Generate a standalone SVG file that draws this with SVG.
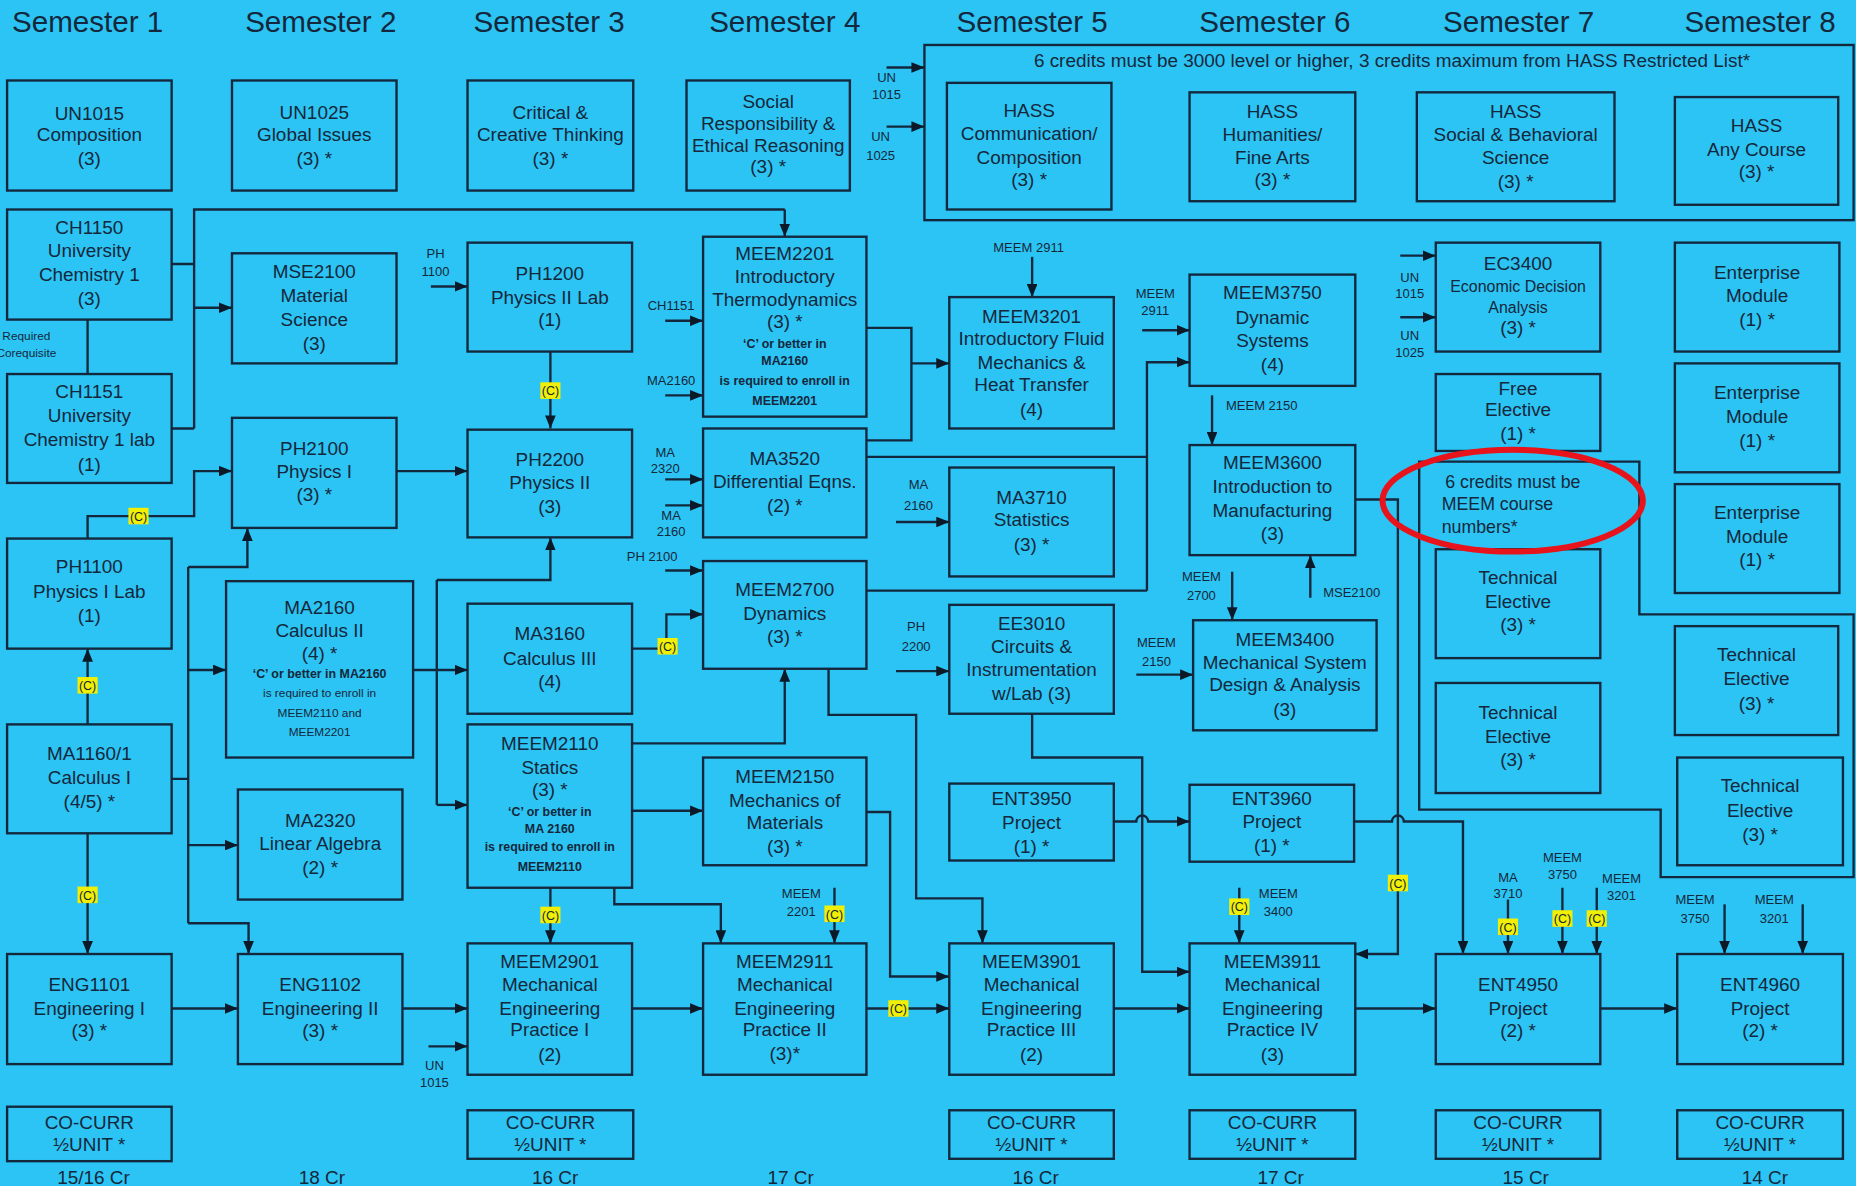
<svg xmlns="http://www.w3.org/2000/svg" xmlns:xlink="http://www.w3.org/1999/xlink" width="1856" height="1186" viewBox="0 0 1856 1186">
<style>
text{font-family:"Liberation Sans",Arial,Helvetica,sans-serif;fill:#13283c}
.box{fill:#2cc4f4;stroke:#13283c;stroke-width:2}
.t{font-size:16px;text-anchor:middle}
.sem{font-size:25px;text-anchor:middle}
.cr{font-size:16px;text-anchor:middle}
.lbl{font-size:11px;text-anchor:middle}
.nb{font-size:10.5px;font-weight:bold;text-anchor:middle}
.ns{font-size:10px;text-anchor:middle}
.sm{font-size:13.5px;text-anchor:middle}
.ln{fill:none;stroke:#13283c;stroke-width:2}
.ar{fill:none;stroke:#13283c;stroke-width:2;marker-end:url(#ah)}
.grp{fill:none;stroke:#13283c;stroke-width:2}
.bdg{fill:#f2f000}
.bt{font-size:10.5px;text-anchor:middle}
</style>
<defs>
<marker id="ah" viewBox="0 0 10 10" refX="10" refY="5" markerWidth="11" markerHeight="9" markerUnits="userSpaceOnUse" orient="auto" preserveAspectRatio="none"><path d="M0,0 L10,5 L0,10 z" fill="#0b1a28"/></marker>
<g id="cb"><rect class="bdg" x="-8.5" y="-7" width="17" height="14"/><text class="bt" x="0" y="4">(C)</text></g>
</defs>
<rect x="0" y="0" width="1856" height="1186" fill="#2cc4f4"/>
<g transform="scale(1.18365)">
<g id="headers">
<text class="sem" x="74" y="27">Semester 1</text>
<text class="sem" x="271" y="27">Semester 2</text>
<text class="sem" x="464" y="27">Semester 3</text>
<text class="sem" x="663" y="27">Semester 4</text>
<text class="sem" x="872" y="27">Semester 5</text>
<text class="sem" x="1077" y="27">Semester 6</text>
<text class="sem" x="1283" y="27">Semester 7</text>
<text class="sem" x="1487" y="27">Semester 8</text>
</g>
<g id="credits">
<text class="cr" x="79" y="1000">15/16 Cr</text>
<text class="cr" x="272" y="1000">18 Cr</text>
<text class="cr" x="469" y="1000">16 Cr</text>
<text class="cr" x="668" y="1000">17 Cr</text>
<text class="cr" x="875" y="1000">16 Cr</text>
<text class="cr" x="1082" y="1000">17 Cr</text>
<text class="cr" x="1289" y="1000">15 Cr</text>
<text class="cr" x="1491" y="1000">14 Cr</text>
</g>
<g id="hass-group">
<rect class="grp" x="781" y="38" width="785" height="148"/>
<text class="t" x="1176" y="57">6 credits must be 3000 level or higher, 3 credits maximum  from HASS Restricted List*</text>
</g>
<g id="meem-group">
<path class="grp" d="M1566,519 H1385 V390 H1199 V684 H1403 V741 H1566 Z"/>
<text style="font-size:15px" x="1221" y="412">6 credits must be</text>
<text style="font-size:15px" x="1218" y="431">MEEM  course</text>
<text style="font-size:15px" x="1218" y="450">numbers*</text>
</g>
<g id="connectors">
<path class="ln" d="M145,223 H164 M145,362 H164 M164,362 V177 H663"/>
<path class="ar" d="M663,177 V200"/>
<path class="ar" d="M164,260 H196"/>
<path class="ln" d="M74,270 V316"/>
<path class="ar" d="M364,242 H395"/>
<path class="ar" d="M465,297 V362"/>
<path class="ar" d="M74,455 V436 H164 V398 H196"/>
<path class="ar" d="M335,398 H395"/>
<path class="ln" d="M145,658 H159 M159,479 V780"/>
<path class="ar" d="M159,479 H209 V446"/>
<path class="ar" d="M159,566 H191"/>
<path class="ar" d="M159,714 H201"/>
<path class="ar" d="M159,780 H210 V806"/>
<path class="ar" d="M74,612 V548"/>
<path class="ar" d="M74,704 V806"/>
<path class="ar" d="M349,566 H395"/>
<path class="ln" d="M369,490 V680"/>
<path class="ar" d="M369,490 H465 V454"/>
<path class="ar" d="M369,680 H395"/>
<path class="ar" d="M145,852 H201"/>
<path class="ar" d="M340,852 H395"/>
<path class="ar" d="M362,884 H395"/>
<path class="ar" d="M465,750 V797"/>
<path class="ar" d="M519,750 V764 H609 V797"/>
<path class="ar" d="M534,628 H663 V565"/>
<path class="ar" d="M534,685 H594"/>
<path class="ar" d="M534,548 H563 V519 H594"/>
<path class="ar" d="M562,482 H594"/>
<path class="ar" d="M562,405 H594"/>
<path class="ar" d="M562,427 H594"/>
<path class="ar" d="M562,271 H594"/>
<path class="ar" d="M562,334 H594"/>
<path class="ln" d="M732,277 H770 V372 H732"/>
<path class="ar" d="M770,307 H802"/>
<path class="ln" d="M732,386 H969 M732,499 H969"/>
<path class="ar" d="M969,499 V306 H1005"/>
<path class="ar" d="M872,217 V251"/>
<path class="ar" d="M965,279 H1005"/>
<path class="ar" d="M757,441 H802"/>
<path class="ar" d="M757,567 H802"/>
<path class="ar" d="M700,565 V604 H774 V759 H830 V797"/>
<path class="ar" d="M732,686 H752 V825 H802"/>
<path class="ar" d="M705,750 V797"/>
<path class="ar" d="M534,852 H594"/>
<path class="ar" d="M732,852 H802"/>
<path class="ar" d="M872,603 V640 H965 V821 H1005"/>
<path class="ar" d="M941,694 H960 A5,5 0 0 1 970,694 H1005"/>
<path class="ar" d="M941,852 H1005"/>
<path class="ar" d="M1024,334 V376"/>
<path class="ar" d="M1041,483 V524"/>
<path class="ar" d="M1107,505 V469"/>
<path class="ar" d="M960,570 H1008"/>
<path class="ar" d="M1145,422 H1181 V806 H1145"/>
<path class="ar" d="M1144,694 H1176 A5,5 0 0 1 1186,694 H1236 V806"/>
<path class="ar" d="M1145,852 H1213"/>
<path class="ar" d="M1047,750 V797"/>
<path class="ar" d="M1274,760 V806"/>
<path class="ar" d="M1320,750 V806"/>
<path class="ar" d="M1349,750 V806"/>
<path class="ar" d="M1352,852 H1417"/>
<path class="ar" d="M1457,764 V806"/>
<path class="ar" d="M1523,764 V806"/>
<path class="ar" d="M1183,216 H1213"/>
<path class="ar" d="M1183,268 H1213"/>
<path class="ar" d="M749,57 H781"/>
<path class="ar" d="M749,107 H781"/>
<use xlink:href="#cb" href="#cb" x="465" y="330"/>
<use xlink:href="#cb" href="#cb" x="117" y="436"/>
<use xlink:href="#cb" href="#cb" x="74" y="579"/>
<use xlink:href="#cb" href="#cb" x="74" y="756"/>
<use xlink:href="#cb" href="#cb" x="465" y="773"/>
<use xlink:href="#cb" href="#cb" x="564" y="546"/>
<use xlink:href="#cb" href="#cb" x="705" y="772"/>
<use xlink:href="#cb" href="#cb" x="759" y="852"/>
<use xlink:href="#cb" href="#cb" x="1181" y="746"/>
<use xlink:href="#cb" href="#cb" x="1047" y="766"/>
<use xlink:href="#cb" href="#cb" x="1274" y="783"/>
<use xlink:href="#cb" href="#cb" x="1320" y="776"/>
<use xlink:href="#cb" href="#cb" x="1349" y="776"/>
<g id="connector-labels">
<text style="font-size:10px" x="2" y="287">Required</text>
<text style="font-size:10px" x="-3" y="302">Corequisite</text>
<text class="lbl" x="368" y="218">PH</text><text class="lbl" x="368" y="233">1100</text>
<text class="lbl" x="367" y="904">UN</text><text class="lbl" x="367" y="918">1015</text>
<text class="lbl" x="551" y="474">PH 2100</text>
<text class="lbl" x="562" y="386">MA</text><text class="lbl" x="562" y="400">2320</text>
<text class="lbl" x="567" y="439">MA</text><text class="lbl" x="567" y="453">2160</text>
<text class="lbl" x="567" y="262">CH1151</text>
<text class="lbl" x="567" y="325">MA2160</text>
<text class="lbl" x="869" y="213">MEEM 2911</text>
<text class="lbl" x="976" y="252">MEEM</text><text class="lbl" x="976" y="266">2911</text>
<text class="lbl" x="776" y="413">MA</text><text class="lbl" x="776" y="431">2160</text>
<text class="lbl" x="774" y="533">PH</text><text class="lbl" x="774" y="550">2200</text>
<text class="lbl" x="677" y="759">MEEM</text><text class="lbl" x="677" y="774">2201</text>
<text class="lbl" x="1066" y="346">MEEM 2150</text>
<text class="lbl" x="1015" y="491">MEEM</text><text class="lbl" x="1015" y="507">2700</text>
<text class="lbl" x="1142" y="504">MSE2100</text>
<text class="lbl" x="977" y="547">MEEM</text><text class="lbl" x="977" y="563">2150</text>
<text class="lbl" x="1080" y="759">MEEM</text><text class="lbl" x="1080" y="774">3400</text>
<text class="lbl" x="1274" y="745">MA</text><text class="lbl" x="1274" y="759">3710</text>
<text class="lbl" x="1320" y="728">MEEM</text><text class="lbl" x="1320" y="743">3750</text>
<text class="lbl" x="1370" y="746">MEEM</text><text class="lbl" x="1370" y="760">3201</text>
<text class="lbl" x="1432" y="764">MEEM</text><text class="lbl" x="1432" y="780">3750</text>
<text class="lbl" x="1499" y="764">MEEM</text><text class="lbl" x="1499" y="780">3201</text>
<text class="lbl" x="1191" y="238">UN</text><text class="lbl" x="1191" y="252">1015</text>
<text class="lbl" x="1191" y="287">UN</text><text class="lbl" x="1191" y="302">1025</text>
<text class="lbl" x="749" y="69">UN</text><text class="lbl" x="749" y="84">1015</text>
<text class="lbl" x="744" y="119">UN</text><text class="lbl" x="744" y="135">1025</text>
</g>
</g>
<g id="un1015"><rect class="box" x="6" y="68" width="139" height="93"/><text class="t"><tspan x="75.5" y="101.5">UN1015</tspan><tspan x="75.5" y="119.5">Composition</tspan><tspan x="75.5" y="139.5">(3)</tspan></text></g>
<g id="ch1150"><rect class="box" x="6" y="177" width="139" height="93"/><text class="t"><tspan x="75.5" y="197.5">CH1150</tspan><tspan x="75.5" y="217.5">University</tspan><tspan x="75.5" y="237.5">Chemistry 1</tspan><tspan x="75.5" y="257.5">(3)</tspan></text></g>
<g id="ch1151"><rect class="box" x="6" y="316" width="139" height="92"/><text class="t"><tspan x="75.5" y="336.5">CH1151</tspan><tspan x="75.5" y="356.5">University</tspan><tspan x="75.5" y="376.5">Chemistry 1 lab</tspan><tspan x="75.5" y="397.5">(1)</tspan></text></g>
<g id="ph1100"><rect class="box" x="6" y="455" width="139" height="93"/><text class="t"><tspan x="75.5" y="484.5">PH1100</tspan><tspan x="75.5" y="505.5">Physics I Lab</tspan><tspan x="75.5" y="525.5">(1)</tspan></text></g>
<g id="ma1160"><rect class="box" x="6" y="612" width="139" height="92"/><text class="t"><tspan x="75.5" y="642.5">MA1160/1</tspan><tspan x="75.5" y="662.5">Calculus I</tspan><tspan x="75.5" y="682.5">(4/5) *</tspan></text></g>
<g id="eng1101"><rect class="box" x="6" y="806" width="139" height="93"/><text class="t"><tspan x="75.5" y="837.5">ENG1101</tspan><tspan x="75.5" y="857.5">Engineering I</tspan><tspan x="75.5" y="876.5">(3) *</tspan></text></g>
<g id="cocurr1"><rect class="box" x="6" y="935" width="139" height="46"/><text class="t"><tspan x="75.5" y="953.5">CO-CURR</tspan><tspan x="75.5" y="972.5">½UNIT *</tspan></text></g>
<g id="un1025"><rect class="box" x="196" y="68" width="139" height="93"/><text class="t"><tspan x="265.5" y="100.5">UN1025</tspan><tspan x="265.5" y="119.5">Global Issues</tspan><tspan x="265.5" y="139.5">(3) *</tspan></text></g>
<g id="mse2100"><rect class="box" x="196" y="214" width="139" height="93"/><text class="t"><tspan x="265.5" y="234.5">MSE2100</tspan><tspan x="265.5" y="255.5">Material</tspan><tspan x="265.5" y="275.5">Science</tspan><tspan x="265.5" y="295.5">(3)</tspan></text></g>
<g id="ph2100"><rect class="box" x="196" y="353" width="139" height="93"/><text class="t"><tspan x="265.5" y="384.5">PH2100</tspan><tspan x="265.5" y="403.5">Physics I</tspan><tspan x="265.5" y="423.5">(3) *</tspan></text></g>
<g id="ma2160"><rect class="box" x="191" y="491" width="158" height="149"/><text class="t"><tspan x="270" y="518.5">MA2160</tspan><tspan x="270" y="538.5">Calculus II</tspan><tspan x="270" y="557.5">(4) *</tspan></text><text class="nb" x="270" y="573">‘C’ or better in MA2160</text><text class="ns"><tspan x="270" y="589">is required to enroll in</tspan><tspan x="270" y="606">MEEM2110 and</tspan><tspan x="270" y="622">MEEM2201</tspan></text></g>
<g id="ma2320"><rect class="box" x="201" y="667" width="139" height="93"/><text class="t"><tspan x="270.5" y="698.5">MA2320</tspan><tspan x="270.5" y="718.5">Linear Algebra</tspan><tspan x="270.5" y="738.5">(2) *</tspan></text></g>
<g id="eng1102"><rect class="box" x="201" y="806" width="139" height="93"/><text class="t"><tspan x="270.5" y="837.5">ENG1102</tspan><tspan x="270.5" y="857.5">Engineering II</tspan><tspan x="270.5" y="876.5">(3) *</tspan></text></g>
<g id="critical"><rect class="box" x="395" y="68" width="140" height="93"/><text class="t"><tspan x="465" y="100.5">Critical &amp;</tspan><tspan x="465" y="119.5">Creative Thinking</tspan><tspan x="465" y="139.5">(3) *</tspan></text></g>
<g id="ph1200"><rect class="box" x="395" y="205" width="139" height="92"/><text class="t"><tspan x="464.5" y="236.5">PH1200</tspan><tspan x="464.5" y="256.5">Physics II Lab</tspan><tspan x="464.5" y="275.5">(1)</tspan></text></g>
<g id="ph2200"><rect class="box" x="395" y="363" width="139" height="91"/><text class="t"><tspan x="464.5" y="393.5">PH2200</tspan><tspan x="464.5" y="413.5">Physics II</tspan><tspan x="464.5" y="433.5">(3)</tspan></text></g>
<g id="ma3160"><rect class="box" x="395" y="510" width="139" height="93"/><text class="t"><tspan x="464.5" y="540.5">MA3160</tspan><tspan x="464.5" y="561.5">Calculus III</tspan><tspan x="464.5" y="581.5">(4)</tspan></text></g>
<g id="meem2110"><rect class="box" x="395" y="612" width="139" height="138"/><text class="t"><tspan x="464.5" y="633.5">MEEM2110</tspan><tspan x="464.5" y="653.5">Statics</tspan><tspan x="464.5" y="672.5">(3) *</tspan></text><text class="nb"><tspan x="464.5" y="689">‘C’ or better in</tspan><tspan x="464.5" y="704">MA 2160</tspan><tspan x="464.5" y="719">is required to enroll in</tspan><tspan x="464.5" y="736">MEEM2110</tspan></text></g>
<g id="meem2901"><rect class="box" x="395" y="797" width="139" height="111"/><text class="t"><tspan x="464.5" y="817.5">MEEM2901</tspan><tspan x="464.5" y="837.5">Mechanical</tspan><tspan x="464.5" y="857.5">Engineering</tspan><tspan x="464.5" y="875.5">Practice I</tspan><tspan x="464.5" y="896.5">(2)</tspan></text></g>
<g id="cocurr3"><rect class="box" x="395" y="938" width="140" height="41"/><text class="t"><tspan x="465" y="953.5">CO-CURR</tspan><tspan x="465" y="972.5">½UNIT *</tspan></text></g>
<g id="social"><rect class="box" x="580" y="68" width="138" height="93"/><text class="t"><tspan x="649" y="91.5">Social</tspan><tspan x="649" y="109.5">Responsibility &amp;</tspan><tspan x="649" y="128.5">Ethical Reasoning</tspan><tspan x="649" y="146.5">(3) *</tspan></text></g>
<g id="meem2201"><rect class="box" x="594" y="200" width="138" height="152"/><text class="t"><tspan x="663" y="219.5">MEEM2201</tspan><tspan x="663" y="239.5">Introductory</tspan><tspan x="663" y="258.5">Thermodynamics</tspan><tspan x="663" y="277.5">(3) *</tspan></text><text class="nb"><tspan x="663" y="294">‘C’ or better in</tspan><tspan x="663" y="308">MA2160</tspan><tspan x="663" y="325">is required to enroll in</tspan><tspan x="663" y="342">MEEM2201</tspan></text></g>
<g id="ma3520"><rect class="box" x="594" y="362" width="138" height="92"/><text class="t"><tspan x="663" y="392.5">MA3520</tspan><tspan x="663" y="412.5">Differential Eqns.</tspan><tspan x="663" y="432.5">(2) *</tspan></text></g>
<g id="meem2700"><rect class="box" x="594" y="474" width="138" height="91"/><text class="t"><tspan x="663" y="503.5">MEEM2700</tspan><tspan x="663" y="523.5">Dynamics</tspan><tspan x="663" y="543.5">(3) *</tspan></text></g>
<g id="meem2150"><rect class="box" x="594" y="640" width="138" height="91"/><text class="t"><tspan x="663" y="661.5">MEEM2150</tspan><tspan x="663" y="681.5">Mechanics of</tspan><tspan x="663" y="700.5">Materials</tspan><tspan x="663" y="720.5">(3) *</tspan></text></g>
<g id="meem2911"><rect class="box" x="594" y="797" width="138" height="111"/><text class="t"><tspan x="663" y="817.5">MEEM2911</tspan><tspan x="663" y="837.5">Mechanical</tspan><tspan x="663" y="857.5">Engineering</tspan><tspan x="663" y="875.5">Practice II</tspan><tspan x="663" y="895.5">(3)*</tspan></text></g>
<g id="hass-comm"><rect class="box" x="800" y="70" width="139" height="107"/><text class="t"><tspan x="869.5" y="98.5">HASS</tspan><tspan x="869.5" y="118.5">Communication/</tspan><tspan x="869.5" y="138.5">Composition</tspan><tspan x="869.5" y="157.5">(3) *</tspan></text></g>
<g id="meem3201"><rect class="box" x="802" y="251" width="139" height="111"/><text class="t"><tspan x="871.5" y="272.5">MEEM3201</tspan><tspan x="871.5" y="291.5">Introductory Fluid</tspan><tspan x="871.5" y="311.5">Mechanics &amp;</tspan><tspan x="871.5" y="330.5">Heat Transfer</tspan><tspan x="871.5" y="351.5">(4)</tspan></text></g>
<g id="ma3710"><rect class="box" x="802" y="395" width="139" height="92"/><text class="t"><tspan x="871.5" y="425.5">MA3710</tspan><tspan x="871.5" y="444.5">Statistics</tspan><tspan x="871.5" y="465.5">(3) *</tspan></text></g>
<g id="ee3010"><rect class="box" x="802" y="511" width="139" height="92"/><text class="t"><tspan x="871.5" y="532.5">EE3010</tspan><tspan x="871.5" y="551.5">Circuits &amp;</tspan><tspan x="871.5" y="571.5">Instrumentation</tspan><tspan x="871.5" y="591.5">w/Lab (3)</tspan></text></g>
<g id="ent3950"><rect class="box" x="802" y="662" width="139" height="65"/><text class="t"><tspan x="871.5" y="680.5">ENT3950</tspan><tspan x="871.5" y="700.5">Project</tspan><tspan x="871.5" y="720.5">(1) *</tspan></text></g>
<g id="meem3901"><rect class="box" x="802" y="797" width="139" height="111"/><text class="t"><tspan x="871.5" y="817.5">MEEM3901</tspan><tspan x="871.5" y="837.5">Mechanical</tspan><tspan x="871.5" y="857.5">Engineering</tspan><tspan x="871.5" y="875.5">Practice III</tspan><tspan x="871.5" y="896.5">(2)</tspan></text></g>
<g id="cocurr5"><rect class="box" x="802" y="938" width="139" height="41"/><text class="t"><tspan x="871.5" y="953.5">CO-CURR</tspan><tspan x="871.5" y="972.5">½UNIT *</tspan></text></g>
<g id="hass-hum"><rect class="box" x="1005" y="78" width="140" height="92"/><text class="t"><tspan x="1075" y="99.5">HASS</tspan><tspan x="1075" y="119.5">Humanities/</tspan><tspan x="1075" y="138.5">Fine Arts</tspan><tspan x="1075" y="157.5">(3) *</tspan></text></g>
<g id="meem3750"><rect class="box" x="1005" y="232" width="140" height="94"/><text class="t"><tspan x="1075" y="252.5">MEEM3750</tspan><tspan x="1075" y="273.5">Dynamic</tspan><tspan x="1075" y="293.5">Systems</tspan><tspan x="1075" y="313.5">(4)</tspan></text></g>
<g id="meem3600"><rect class="box" x="1005" y="376" width="140" height="93"/><text class="t"><tspan x="1075" y="396.5">MEEM3600</tspan><tspan x="1075" y="416.5">Introduction to</tspan><tspan x="1075" y="436.5">Manufacturing</tspan><tspan x="1075" y="456.5">(3)</tspan></text></g>
<g id="meem3400"><rect class="box" x="1008" y="524" width="155" height="93"/><text class="t"><tspan x="1085.5" y="545.5">MEEM3400</tspan><tspan x="1085.5" y="565.5">Mechanical System</tspan><tspan x="1085.5" y="583.5">Design &amp; Analysis</tspan><tspan x="1085.5" y="604.5">(3)</tspan></text></g>
<g id="ent3960"><rect class="box" x="1005" y="663" width="139" height="65"/><text class="t"><tspan x="1074.5" y="680.5">ENT3960</tspan><tspan x="1074.5" y="699.5">Project</tspan><tspan x="1074.5" y="719.5">(1) *</tspan></text></g>
<g id="meem3911"><rect class="box" x="1005" y="797" width="140" height="111"/><text class="t"><tspan x="1075" y="817.5">MEEM3911</tspan><tspan x="1075" y="837.5">Mechanical</tspan><tspan x="1075" y="857.5">Engineering</tspan><tspan x="1075" y="875.5">Practice IV</tspan><tspan x="1075" y="896.5">(3)</tspan></text></g>
<g id="cocurr6"><rect class="box" x="1005" y="938" width="140" height="41"/><text class="t"><tspan x="1075" y="953.5">CO-CURR</tspan><tspan x="1075" y="972.5">½UNIT *</tspan></text></g>
<g id="hass-soc"><rect class="box" x="1197" y="78" width="167" height="92"/><text class="t"><tspan x="1280.5" y="99.5">HASS</tspan><tspan x="1280.5" y="119.5">Social &amp; Behavioral</tspan><tspan x="1280.5" y="138.5">Science</tspan><tspan x="1280.5" y="158.5">(3) *</tspan></text></g>
<g id="ec3400"><rect class="box" x="1213" y="205" width="139" height="92"/><text class="t"><tspan x="1282.5" y="228.5">EC3400</tspan></text><text class="sm"><tspan x="1282.5" y="247">Economic Decision</tspan><tspan x="1282.5" y="264.5">Analysis</tspan></text><text class="t"><tspan x="1282.5" y="282.5">(3) *</tspan></text></g>
<g id="free-elective"><rect class="box" x="1213" y="316" width="139" height="65"/><text class="t"><tspan x="1282.5" y="333.5">Free</tspan><tspan x="1282.5" y="351.5">Elective</tspan><tspan x="1282.5" y="371.5">(1) *</tspan></text></g>
<g id="tech7a"><rect class="box" x="1213" y="464" width="139" height="92"/><text class="t"><tspan x="1282.5" y="493.5">Technical</tspan><tspan x="1282.5" y="513.5">Elective</tspan><tspan x="1282.5" y="533.5">(3) *</tspan></text></g>
<g id="tech7b"><rect class="box" x="1213" y="577" width="139" height="93"/><text class="t"><tspan x="1282.5" y="607.5">Technical</tspan><tspan x="1282.5" y="627.5">Elective</tspan><tspan x="1282.5" y="647.5">(3) *</tspan></text></g>
<g id="ent4950"><rect class="box" x="1213" y="806" width="139" height="93"/><text class="t"><tspan x="1282.5" y="837.5">ENT4950</tspan><tspan x="1282.5" y="857.5">Project</tspan><tspan x="1282.5" y="876.5">(2) *</tspan></text></g>
<g id="cocurr7"><rect class="box" x="1213" y="938" width="139" height="41"/><text class="t"><tspan x="1282.5" y="953.5">CO-CURR</tspan><tspan x="1282.5" y="972.5">½UNIT *</tspan></text></g>
<g id="hass-any"><rect class="box" x="1415" y="82" width="138" height="91"/><text class="t"><tspan x="1484" y="111.5">HASS</tspan><tspan x="1484" y="131.5">Any Course</tspan><tspan x="1484" y="150.5">(3) *</tspan></text></g>
<g id="ent-mod1"><rect class="box" x="1415" y="205" width="139" height="92"/><text class="t"><tspan x="1484.5" y="235.5">Enterprise</tspan><tspan x="1484.5" y="255.5">Module</tspan><tspan x="1484.5" y="275.5">(1) *</tspan></text></g>
<g id="ent-mod2"><rect class="box" x="1415" y="307" width="139" height="92"/><text class="t"><tspan x="1484.5" y="337.5">Enterprise</tspan><tspan x="1484.5" y="357.5">Module</tspan><tspan x="1484.5" y="377.5">(1) *</tspan></text></g>
<g id="ent-mod3"><rect class="box" x="1415" y="409" width="139" height="92"/><text class="t"><tspan x="1484.5" y="438.5">Enterprise</tspan><tspan x="1484.5" y="458.5">Module</tspan><tspan x="1484.5" y="478.5">(1) *</tspan></text></g>
<g id="tech8a"><rect class="box" x="1415" y="529" width="138" height="92"/><text class="t"><tspan x="1484" y="558.5">Technical</tspan><tspan x="1484" y="578.5">Elective</tspan><tspan x="1484" y="599.5">(3) *</tspan></text></g>
<g id="tech8b"><rect class="box" x="1417" y="640" width="140" height="91"/><text class="t"><tspan x="1487" y="669.5">Technical</tspan><tspan x="1487" y="690.5">Elective</tspan><tspan x="1487" y="710.5">(3) *</tspan></text></g>
<g id="ent4960"><rect class="box" x="1417" y="806" width="140" height="93"/><text class="t"><tspan x="1487" y="837.5">ENT4960</tspan><tspan x="1487" y="857.5">Project</tspan><tspan x="1487" y="876.5">(2) *</tspan></text></g>
<g id="cocurr8"><rect class="box" x="1417" y="938" width="140" height="41"/><text class="t"><tspan x="1487" y="953.5">CO-CURR</tspan><tspan x="1487" y="972.5">½UNIT *</tspan></text></g>
<ellipse id="highlight" cx="1278" cy="423" rx="110" ry="43" fill="none" stroke="#e8141c" stroke-width="5"/>
</g>
</svg>
